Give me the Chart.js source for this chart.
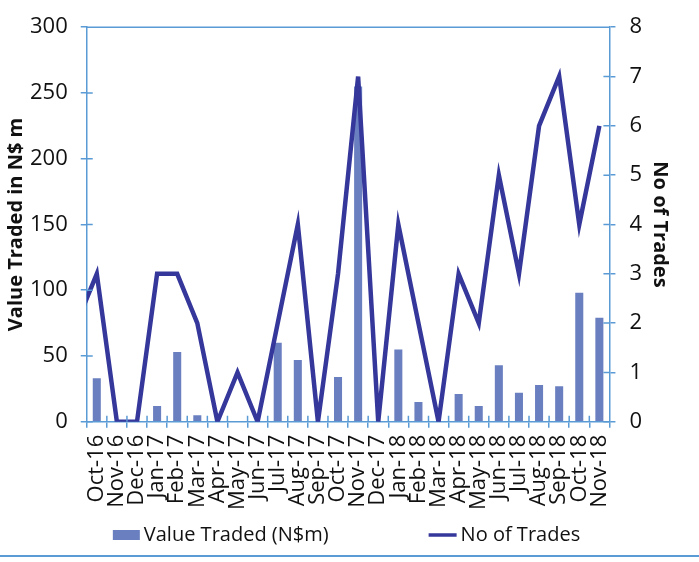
<!DOCTYPE html>
<html>
<head>
<meta charset="utf-8">
<script src="https://cdn.jsdelivr.net/npm/chart.js@4.4.0/dist/chart.umd.min.js"></script>
<style>
  body { margin: 0; background: #fff; }
  #wrap { width: 699px; height: 562px; }
</style>
</head>
<body>
<div id="wrap"><canvas id="combo" width="699" height="562"></canvas></div>
<script>
// months (Sep-16 is only there so the line enters from the left edge, it is hidden by the axis min)
var months = ['Sep-16', 'Oct-16', 'Nov-16', 'Dec-16', 'Jan-17', 'Feb-17', 'Mar-17', 'Apr-17', 'May-17', 'Jun-17',
    'Jul-17', 'Aug-17', 'Sep-17', 'Oct-17', 'Nov-17', 'Dec-17', 'Jan-18', 'Feb-18', 'Mar-18', 'Apr-18',
    'May-18', 'Jun-18', 'Jul-18', 'Aug-18', 'Sep-18', 'Oct-18', 'Nov-18'];
var valueTraded = [null, 33, 0, 0, 12, 53, 5, 0, 0.5, 0, 60, 47, 0, 34, 255, 0, 55, 15, 0, 21, 12, 43, 22, 28, 27, 98, 79];
var noOfTrades = [2, 3, 0, 0, 3, 3, 2, 0, 1, 0, 2, 4, 0, 3, 7, 0, 4, 2, 0, 3, 2, 5, 3, 6, 7, 4, 6];
var valueTicks = [0, 50, 100, 150, 200, 250, 300];
var tradeTicks = [0, 1, 2, 3, 4, 5, 6, 7, 8];

var axisBlue = '#5b9bd5';
var barColor = '#6a7fc0';
var lineColor = '#35379b';
var fontFamily = '"Open Sans", "Noto Sans", sans-serif';

Chart.defaults.font.family = fontFamily;
Chart.defaults.color = '#111';

// top border, inner half of the tick marks, legend and the blue rule at the bottom
var decorPlugin = {
    id: 'decor',
    afterDraw: function(chart) {
        var ctx = chart.ctx;
        var area = chart.chartArea;
        var xs = chart.scales.x, y1 = chart.scales.y, y2 = chart.scales.y2;
        ctx.save();
        ctx.strokeStyle = axisBlue;
        ctx.lineWidth = 1.5;
        ctx.beginPath();
        ctx.moveTo(area.left, area.top);
        ctx.lineTo(area.right, area.top);
        valueTicks.forEach(function(v) {
            var p = y1.getPixelForValue(v);
            ctx.moveTo(area.left, p); ctx.lineTo(area.left + 6, p);
        });
        tradeTicks.forEach(function(v) {
            var p = y2.getPixelForValue(v);
            ctx.moveTo(area.right, p); ctx.lineTo(area.right - 6, p);
        });
        var step = xs.getPixelForValue(2) - xs.getPixelForValue(1);
        for (var i = 2; i < months.length; i++) {
            var px = xs.getPixelForValue(i) - step / 2;
            ctx.moveTo(px, area.bottom); ctx.lineTo(px, area.bottom - 6);
        }
        ctx.stroke();

        // bottom rule
        ctx.lineWidth = 2;
        ctx.beginPath();
        ctx.moveTo(0, chart.height - 6);
        ctx.lineTo(chart.width, chart.height - 6);
        ctx.stroke();

        // legend
        ctx.font = '20px ' + fontFamily;
        ctx.textBaseline = 'middle';
        ctx.textAlign = 'left';
        ctx.fillStyle = '#111';
        var t1 = chart.data.datasets[0].label, t2 = chart.data.datasets[1].label;
        var w1 = 27 + 4 + ctx.measureText(t1).width;
        var w2 = 28 + 4 + ctx.measureText(t2).width;
        var gap = 100;
        var x0 = chart.width / 2 - 3 - (w1 + gap + w2) / 2;
        var ly = chart.height - 27;
        ctx.fillStyle = barColor;
        ctx.fillRect(x0, ly - 5, 27, 10);
        ctx.fillStyle = '#111';
        ctx.fillText(t1, x0 + 31, ly);
        var x1 = x0 + w1 + gap;
        ctx.strokeStyle = lineColor;
        ctx.lineWidth = 3.5;
        ctx.beginPath();
        ctx.moveTo(x1, ly); ctx.lineTo(x1 + 28, ly);
        ctx.stroke();
        ctx.fillText(t2, x1 + 32, ly);
        ctx.restore();
    }
};

var ctx = document.getElementById('combo').getContext('2d');
var myChart = new Chart(ctx, {
    type: 'bar',
    data: {
        labels: months,
        datasets: [{
            type: 'bar',
            label: 'Value Traded (N$m)',
            data: valueTraded,
            backgroundColor: barColor,
            yAxisID: 'y',
            categoryPercentage: 0.8,
            barPercentage: 0.5,
            order: 2
        }, {
            type: 'line',
            label: 'No of Trades',
            data: noOfTrades,
            borderColor: lineColor,
            backgroundColor: lineColor,
            borderWidth: 4.5,
            borderJoinStyle: 'miter',
            pointRadius: 0,
            tension: 0,
            yAxisID: 'y2',
            order: 1
        }]
    },
    options: {
        responsive: false,
        animation: false,
        layout: { padding: { top: 26, left: 4, right: 27, bottom: 45 } },
        plugins: {
            legend: { display: false },
            tooltip: { enabled: false }
        },
        scales: {
            x: {
                min: 'Oct-16',
                offset: true,
                grid: { display: true, drawOnChartArea: false, offset: true, color: axisBlue, lineWidth: 1.5, tickLength: 6 },
                border: { color: axisBlue, width: 1.5 },
                ticks: { autoSkip: false, minRotation: 90, maxRotation: 90, padding: 7, font: { size: 22 } }
            },
            y: {
                position: 'left',
                min: 0,
                max: 300,
                ticks: { stepSize: 50, padding: 13, font: { size: 22 } },
                grid: { drawOnChartArea: false, color: axisBlue, lineWidth: 1.5, tickLength: 6 },
                border: { color: axisBlue, width: 1.5 },
                title: { display: true, text: 'Value Traded in N$ m', font: { size: 20, weight: 'bold' }, padding: { top: 0, bottom: -11 } }
            },
            y2: {
                position: 'right',
                min: 0,
                max: 8,
                ticks: { stepSize: 1, padding: 14, font: { size: 22 } },
                grid: { drawOnChartArea: false, color: axisBlue, lineWidth: 1.5, tickLength: 6 },
                border: { color: axisBlue, width: 1.5 },
                title: { display: true, text: 'No of Trades', font: { size: 20, weight: 'bold' }, padding: { top: 0, bottom: -8 } }
            }
        }
    },
    plugins: [decorPlugin]
});
</script>
</body>
</html>
